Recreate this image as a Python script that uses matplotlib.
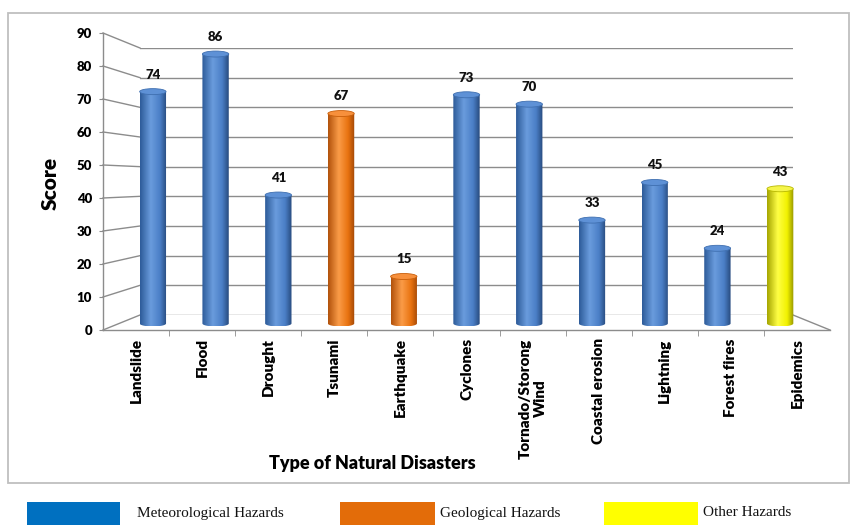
import numpy as np
import matplotlib
matplotlib.use("Agg")
import matplotlib.pyplot as plt
from matplotlib.patches import Rectangle, Ellipse, PathPatch
from matplotlib.path import Path
from matplotlib.lines import Line2D
from matplotlib.colors import LinearSegmentedColormap

# ---- data ----
categories = ["Landslide", "Flood", "Drought", "Tsunami", "Earthquake", "Cyclones",
              "Tornado/Storong\nWind", "Coastal erosion", "Lightning", "Forest fires",
              "Epidemics"]
scores = [74, 86, 41, 67, 15, 73, 70, 33, 45, 24, 43]
groups = ["Meteorological Hazards", "Meteorological Hazards", "Meteorological Hazards",
          "Geological Hazards", "Geological Hazards",
          "Meteorological Hazards", "Meteorological Hazards", "Meteorological Hazards",
          "Meteorological Hazards", "Meteorological Hazards",
          "Other Hazards"]
legend_labels = ["Meteorological Hazards", "Geological Hazards", "Other Hazards"]
y_ticks = list(range(0, 91, 10))

# ---- styling ----
legend_colors = {"Meteorological Hazards": "#0070C0",
                 "Geological Hazards": "#E36C09",
                 "Other Hazards": "#FFFF00"}
body_stops = {
    "Meteorological Hazards": ["#2C5A98", "#6A9CDD", "#4A7EC6", "#27497C"],
    "Geological Hazards": ["#B0500A", "#FB9C48", "#E8720F", "#A04606"],
    "Other Hazards": ["#A4A400", "#FFFF45", "#F2F200", "#939300"],
}
cap_colors = {"Meteorological Hazards": ("#5E91D6", "#3F6FB0"),
              "Geological Hazards": ("#F7903C", "#C85E0A"),
              "Other Hazards": ("#F5F54A", "#B8B800")}
grid_col = "#8C8C8C"

plt.rcParams["font.family"] = ["Lato", "DejaVu Sans"]

W, H = 856, 525
fig = plt.figure(figsize=(W / 100, H / 100), dpi=100)


def frame(left, right, top, bottom):
    return [left / W, 1 - bottom / H, (right - left) / W, (bottom - top) / H]


n = len(categories)
xpos = np.arange(n)
xlim = (-0.5, n - 0.5)

# back wall (gridlines)
ax_back = fig.add_axes(frame(140, 793, 48, 315), zorder=0)
ax_back.set_xlim(*xlim)
ax_back.set_ylim(0, 90)
ax_back.axis("off")
for t in y_ticks:
    ax_back.axhline(t, color=grid_col, lw=1.0)

# middle plane (cylinders)
top_px, zero_px = 41.5, 323.5
scale = (zero_px - top_px) / 90.0
ax_mid = fig.add_axes(frame(121.5, 811.5, top_px, zero_px + 3 * scale), zorder=1)
ax_mid.set_facecolor("none")
ax_mid.axis("off")

bars = ax_mid.bar(xpos, scores, width=0.42, color="none", edgecolor="none")
ell_h = 6.0 / scale
theta = np.linspace(np.pi, 2 * np.pi, 60)
grad = np.linspace(0, 1, 256).reshape(1, -1)
for rect, grp, val in zip(bars, groups, scores):
    x0, w, h = rect.get_x(), rect.get_width(), rect.get_height()
    cx = x0 + w / 2
    # cylinder outline: rounded bottom, straight sides
    bx = cx + (w / 2) * np.cos(theta)
    by = (ell_h / 2) * np.sin(theta)
    verts = np.vstack([np.column_stack([bx, by]), [[x0 + w, h], [x0, h], [x0, 0]]])
    outline = PathPatch(Path(verts), facecolor="none", edgecolor="none")
    ax_mid.add_patch(outline)
    cmap = LinearSegmentedColormap.from_list(
        grp, list(zip([0.0, 0.4, 0.75, 1.0], body_stops[grp])))
    im = ax_mid.imshow(grad, cmap=cmap, extent=[x0, x0 + w, -ell_h / 2, h],
                       aspect="auto", interpolation="bicubic", zorder=2)
    im.set_clip_path(outline)
    fc, ec = cap_colors[grp]
    ax_mid.add_patch(Ellipse((cx, h), w, ell_h, facecolor=fc, edgecolor=ec,
                             lw=0.6, zorder=3))
    ax_mid.annotate(f"{val}", (cx, h), xytext=(0, 8), textcoords="offset points",
                    ha="center", va="bottom", fontsize=9.5, fontweight="heavy",
                    color="#111111")

ax_mid.set_xlim(*xlim)
ax_mid.set_ylim(-3, 90)
ax_mid.set_aspect("auto")

# front plane (value axis and floor edge)
ax_front = fig.add_axes(frame(103, 830, 33, 330), zorder=2)
ax_front.set_facecolor("none")
ax_front.set_xlim(*xlim)
ax_front.set_ylim(0, 90)
for s in ("top", "right"):
    ax_front.spines[s].set_visible(False)
for s in ("left", "bottom"):
    ax_front.spines[s].set_color(grid_col)
    ax_front.spines[s].set_linewidth(1.0)
ax_front.set_yticks(y_ticks)
ax_front.set_yticklabels([str(t) for t in y_ticks], fontsize=9.5, fontweight="heavy")
ax_front.tick_params(axis="y", length=3, color=grid_col, pad=5)
ax_front.set_xticks(xpos)
ax_front.set_xticklabels(categories, rotation=90, fontsize=11, fontweight="heavy",
                         va="top", ha="center", multialignment="center",
                         linespacing=1.2)
ax_front.tick_params(axis="x", which="major", length=0, pad=6)
ax_front.set_xticks(np.arange(0.5, n - 1, 1.0), minor=True)
ax_front.tick_params(axis="x", which="minor", length=4, color=grid_col, direction="out")

# perspective edges between front and back planes
to_fig = fig.transFigure.inverted()


def join(p_front, p_back):
    a = to_fig.transform(ax_front.transData.transform(p_front))
    b = to_fig.transform(ax_back.transData.transform(p_back))
    fig.add_artist(Line2D([a[0], b[0]], [a[1], b[1]], transform=fig.transFigure,
                          color=grid_col, lw=1.0, zorder=0.5))


for t in y_ticks:
    join((xlim[0], t), (xlim[0], t))
join((xlim[1], 0), (xlim[1], 0))

# titles
fig.text(50 / W, 1 - 183 / H, "Score", rotation=90, ha="center", va="center",
         fontsize=15, fontweight="heavy")
fig.text(372 / W, 1 - 463 / H, "Type of Natural Disasters", ha="center", va="center",
         fontsize=13, fontweight="heavy")

# outer frame
fig.add_artist(Rectangle((8 / W, 1 - 483 / H), (849 - 8) / W, (483 - 13) / H,
                         transform=fig.transFigure, fill=False, edgecolor="#BFBFBF",
                         lw=1.3, zorder=0))

# legend strip below the frame
legend_boxes = [(27, 120, 137), (340, 435, 440), (604, 698, 703)]
for lab, (l, r, tx) in zip(legend_labels, legend_boxes):
    fig.add_artist(Rectangle((l / W, 0), (r - l) / W, (525 - 502) / H,
                             transform=fig.transFigure, facecolor=legend_colors[lab],
                             edgecolor="none"))
    fig.text(tx / W, 1 - 513 / H, lab, ha="left", va="center", fontsize=11,
             family="Liberation Serif", color="#111111")

fig.savefig("out.png", dpi=100)
